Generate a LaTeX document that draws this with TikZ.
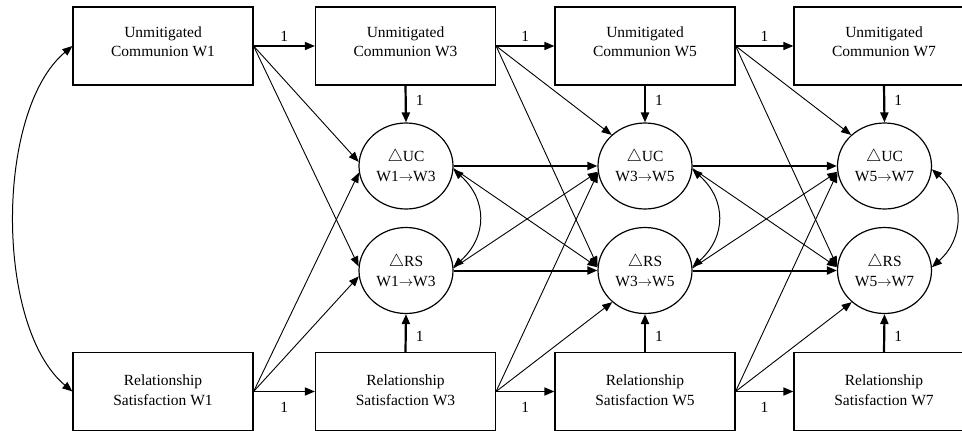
\documentclass[tikz,border=0pt]{standalone}
\usepackage{fontspec}
\setmainfont{Liberation Serif}
\usetikzlibrary{arrows.meta,shapes.geometric}
\newcommand\tri{{\fontsize{16.5}{16.5}\selectfont$\triangle$}}
\newcommand\arr{$\rightarrow$}
\newcommand\twol[3][0pt]{\raisebox{#1}[\height][\depth]{\begin{tabular}{@{}c@{}}#2\\#3\end{tabular}}}
\begin{document}
\begin{tikzpicture}[x=1pt,y=1pt,
  font=\fontsize{15.5}{20}\selectfont,
  obs/.style={draw, line width=1.2pt, minimum width=180pt, minimum height=78pt, inner sep=0pt},
  lat/.style={draw, ellipse, line width=1.2pt, minimum width=94pt, minimum height=86pt, inner sep=0pt, align=center},
  >={Triangle[length=10pt,width=8pt]},
  reg/.style={->, line width=0.9pt},
  fix/.style={->, line width=2.2pt},
  stab/.style={->, line width=1.6pt},
  cc/.style={->, line width=2pt},
  cov/.style={<->, line width=1pt},
  one/.style={inner sep=2pt}
]
\useasboundingbox (0,0) rectangle (962,-431);

% observed boxes
\node[obs] (uc1) at (163,-46)   {\twol[3pt]{Unmitigated}{Communion W1}};
\node[obs] (uc3) at (405.5,-46) {\twol[3pt]{Unmitigated}{Communion W3}};
\node[obs] (uc5) at (645,-46)   {\twol[3pt]{Unmitigated}{Communion W5}};
\node[obs] (uc7) at (884,-46)   {\twol[3pt]{Unmitigated}{Communion W7}};
\node[obs] (rs1) at (163,-391.5)   {\twol{Relationship}{Satisfaction W1}};
\node[obs] (rs3) at (405.5,-391.5) {\twol{Relationship}{Satisfaction W3}};
\node[obs] (rs5) at (645,-391.5)   {\twol{Relationship}{Satisfaction W5}};
\node[obs] (rs7) at (884,-391.5)   {\twol{Relationship}{Satisfaction W7}};

% latent change circles
\node[lat] (dua) at (406,-166)   {\tri UC\\W1\arr W3};
\node[lat] (dra) at (406,-270.5) {\tri RS\\W1\arr W3};
\node[lat] (dub) at (645,-166)   {\tri UC\\W3\arr W5};
\node[lat] (drb) at (645,-270.5) {\tri RS\\W3\arr W5};
\node[lat] (duc) at (884.5,-166)   {\tri UC\\W5\arr W7};
\node[lat] (drc) at (884.5,-270.5) {\tri RS\\W5\arr W7};

% stability paths between waves
\draw[stab] (uc1.east) -- (uc3.west) node[midway, above=2pt, one] {1};
\draw[stab] (uc3.east) -- (uc5.west) node[midway, above=2pt, one] {1};
\draw[stab] (uc5.east) -- (uc7.west) node[midway, above=2pt, one] {1};
\draw[stab] (rs1.east) -- (rs3.west) node[midway, below=8pt, one] {1};
\draw[stab] (rs3.east) -- (rs5.west) node[midway, below=8pt, one] {1};
\draw[stab] (rs5.east) -- (rs7.west) node[midway, below=8pt, one] {1};

% fixed loadings to change scores
\draw[fix] (uc3.south) -- (dua.north) node[pos=0.4, right=7pt, one] {1};
\draw[fix] (uc5.south) -- (dub.north) node[pos=0.4, right=7pt, one] {1};
\draw[fix] (uc7.south) -- (duc.north) node[pos=0.4, right=7pt, one] {1};
\draw[fix] (rs3.north) -- (dra.south) node[pos=0.4, right=7pt, one] {1};
\draw[fix] (rs5.north) -- (drb.south) node[pos=0.4, right=7pt, one] {1};
\draw[fix] (rs7.north) -- (drc.south) node[pos=0.4, right=7pt, one] {1};

% observed -> change
\draw[reg] (uc1.east) -- (dua.175);
\draw[reg] (uc1.east) -- (dra.175);
\draw[reg] (rs1.east) -- (dua.188);
\draw[reg] (rs1.east) -- (dra.187);
\draw[reg] (uc3.east) -- (dub.137);
\draw[reg] (uc3.east) -- (drb.175);
\draw[reg] (rs3.east) -- (dub.188);
\draw[reg] (rs3.east) -- (drb.224);
\draw[reg] (uc5.east) -- (duc.137);
\draw[reg] (uc5.east) -- (drc.175);
\draw[reg] (rs5.east) -- (duc.188);
\draw[reg] (rs5.east) -- (drc.224);

% change -> change
\draw[cc] (dua.east) -- (dub.west);
\draw[cc] (dra.east) -- (drb.west);
\draw[cc] (dub.east) -- (duc.west);
\draw[cc] (drb.east) -- (drc.west);
\draw[reg] (dua.-3) -- (drb.176);
\draw[reg] (dra.3) -- (dub.187);
\draw[reg] (dub.-3) -- (drc.176);
\draw[reg] (drb.3) -- (duc.187);

% covariances
\draw[cov] (uc1.west) to[out=220, in=140, looseness=0.75] (rs1.west);
\draw[cov] (dua.-4) to[out=-42, in=42, looseness=1.2] (dra.4);
\draw[cov] (dub.-4) to[out=-42, in=42, looseness=1.2] (drb.4);
\draw[cov] (duc.-4) to[out=-42, in=42, looseness=1.15] (drc.4);
\end{tikzpicture}
\end{document}
